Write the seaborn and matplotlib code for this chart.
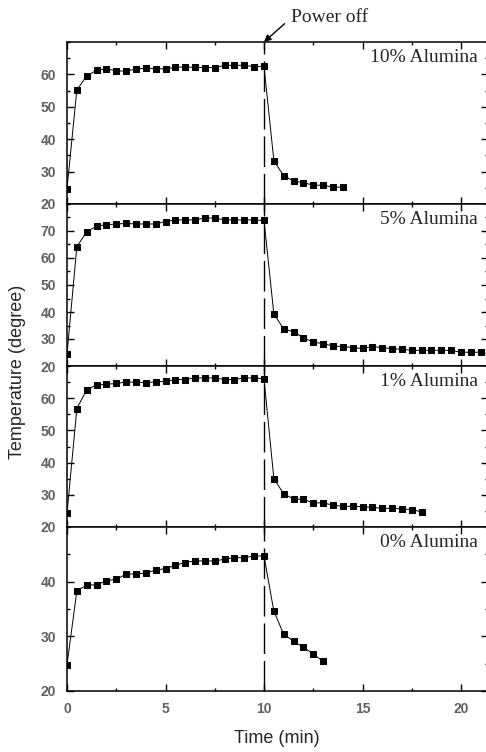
import numpy as np
import pandas as pd
import matplotlib
matplotlib.use("Agg")
import matplotlib.pyplot as plt
import seaborn as sns
from matplotlib.ticker import MultipleLocator

# ---------------- data ----------------
time_heat = [0.0, 0.5, 1.0, 1.5, 2.0, 2.5, 3.0, 3.5, 4.0, 4.5, 5.0,
             5.5, 6.0, 6.5, 7.0, 7.5, 8.0, 8.5, 9.0, 9.5, 10.0]

temp10_heat = [24.7, 55.2, 59.5, 61.3, 61.7, 61.1, 61.0, 61.7, 61.9, 61.8, 61.7,
               62.2, 62.3, 62.2, 62.1, 62.1, 62.8, 62.8, 62.8, 62.4, 62.5]
time10_cool = [10.5, 11.0, 11.5, 12.0, 12.5, 13.0, 13.5, 14.0]
temp10_cool = [33.4, 28.7, 27.1, 26.6, 25.8, 25.8, 25.2, 25.2]

temp5_heat = [24.4, 64.2, 69.7, 71.8, 72.3, 72.6, 72.8, 72.6, 72.6, 72.6, 73.5,
              74.1, 74.1, 74.1, 74.8, 74.8, 74.1, 74.1, 74.1, 74.1, 73.9]
time5_cool = [10.5, 11.0, 11.5, 12.0, 12.5, 13.0, 13.5, 14.0, 14.5, 15.0, 15.5,
              16.0, 16.5, 17.0, 17.5, 18.0, 18.5, 19.0, 19.5, 20.0, 20.5, 21.0]
temp5_cool = [39.3, 33.7, 32.7, 30.5, 28.8, 28.3, 27.4, 27.2, 26.8, 26.5, 27.2,
              26.8, 26.4, 26.2, 25.8, 25.8, 25.8, 25.8, 25.8, 25.1, 25.1, 25.1]

temp1_heat = [24.2, 56.8, 62.6, 64.1, 64.3, 64.6, 65.0, 65.0, 64.8, 65.1, 65.2,
              65.8, 65.8, 66.3, 66.3, 66.3, 65.8, 65.8, 66.3, 66.3, 66.0]
time1_cool = [10.5, 11.0, 11.5, 12.0, 12.5, 13.0, 13.5, 14.0, 14.5, 15.0, 15.5,
              16.0, 16.5, 17.0, 17.5, 18.0]
temp1_cool = [35.0, 30.3, 28.7, 28.6, 27.5, 27.5, 26.8, 26.4, 26.4, 26.3, 26.1,
              25.8, 25.8, 25.6, 25.4, 24.7]

temp0_heat = [24.8, 38.3, 39.4, 39.4, 40.2, 40.4, 41.4, 41.4, 41.6, 42.1, 42.4,
              43.0, 43.5, 43.8, 43.8, 43.8, 44.1, 44.4, 44.4, 44.7, 44.7]
time0_cool = [10.5, 11.0, 11.5, 12.0, 12.5, 13.0]
temp0_cool = [34.6, 30.4, 29.1, 28.0, 26.8, 25.4]

panel_labels = ["10% Alumina", "5% Alumina", "1% Alumina", "0% Alumina"]
y_limits = [(20, 70), (20, 80), (20, 70), (20, 50)]
power_off_time = 10
x_ticks = [0, 5, 10, 15, 20]

series = [
    (time_heat + time10_cool, temp10_heat + temp10_cool),
    (time_heat + time5_cool, temp5_heat + temp5_cool),
    (time_heat + time1_cool, temp1_heat + temp1_cool),
    (time_heat + time0_cool, temp0_heat + temp0_cool),
]

# ---------------- style ----------------
sns.set_theme(style="ticks")
plt.rcParams["font.family"] = ["Liberation Sans", "DejaVu Sans"]

W, H = 486, 752
fig = plt.figure(figsize=(W / 100, H / 100), dpi=100)

left_px, right_px = 67, 487.6
bounds_px = [42, 204, 366, 527, 691]
tick_color = "#606060"

axes = []
for i in range(4):
    top = bounds_px[i]
    bot = bounds_px[i + 1]
    ax = fig.add_axes([left_px / W, 1 - bot / H, (right_px - left_px) / W, (bot - top) / H])
    axes.append(ax)
    x, y = series[i]
    df = pd.DataFrame({"Time": x, "Temp": y})
    sns.lineplot(data=df, x="Time", y="Temp", ax=ax, color="black", linewidth=0.7,
                 marker="s", markersize=5, markeredgecolor="black",
                 markerfacecolor="black", sort=False, estimator=None)
    ax.axvline(power_off_time, color="black", linewidth=1.0,
               linestyle=(0, (22, 5)), zorder=1)
    ax.set_xlim(0, 21.35)
    ax.set_ylim(*y_limits[i])
    lo, hi = y_limits[i]
    ax.set_yticks(list(range(lo, hi, 10)))
    ax.yaxis.set_minor_locator(MultipleLocator(5))
    ax.set_xticks(x_ticks)
    ax.xaxis.set_minor_locator(MultipleLocator(2.5))
    ax.tick_params(which="both", direction="in", top=True, right=True,
                   colors="black", labelcolor=tick_color, width=1.0)
    ax.tick_params(which="major", length=5, pad=8, labelsize=10)
    ax.tick_params(which="minor", length=2.5)
    for lab in ax.get_yticklabels():
        lab.set_fontweight("bold")
    for sp in ax.spines.values():
        sp.set_linewidth(1.1)
        sp.set_color("black")
    ax.set_ylabel("")
    ax.set_xlabel("")
    if i < 3:
        ax.tick_params(labelbottom=False)
    ax.text(0.977, 0.905, panel_labels[i], transform=ax.transAxes,
            ha="right", va="center", fontsize=14,
            family=["Liberation Serif", "DejaVu Serif"])
    ax.set_facecolor("white")

axes[-1].set_xlabel("Time (min)", fontsize=13, labelpad=10)
for lab in axes[-1].get_xticklabels():
    lab.set_fontweight("bold")

fig.text(18 / W, 1 - 372 / H, "Temperature (degree)", rotation=90,
         ha="center", va="center", fontsize=13)

axes[0].annotate("Power off", xy=(power_off_time, 70), xycoords="data",
                 xytext=(291, H - 18), textcoords="figure pixels",
                 ha="left", va="center", fontsize=14,
                 family=["Liberation Serif", "DejaVu Serif"],
                 arrowprops=dict(arrowstyle="-|>", color="black", lw=1.0,
                                 relpos=(0, 0.5), shrinkA=3, shrinkB=0,
                                 mutation_scale=10),
                 annotation_clip=False)

fig.savefig("out.png", dpi=100, facecolor="white")
